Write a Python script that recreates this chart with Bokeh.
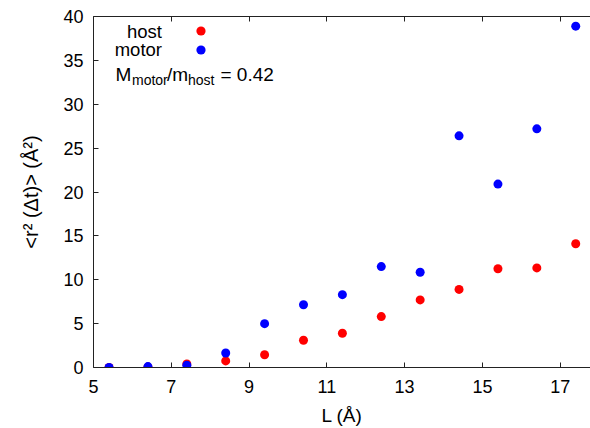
from bokeh.plotting import figure
from bokeh.models import Range1d, LinearAxis, FixedTicker, Legend, LegendItem, Label
from bokeh.embed import file_html
from bokeh.resources import INLINE

# ---- data ----
L_values = [5.4, 6.4, 7.4, 8.4, 9.4, 10.4, 11.4, 12.4, 13.4, 14.4, 15.4, 16.4, 17.4]
host_msd = [0.0, 0.05, 0.4, 0.75, 1.45, 3.1, 3.9, 5.8, 7.7, 8.9, 11.25, 11.35, 14.1]
motor_msd = [0.0, 0.1, 0.25, 1.65, 5.0, 7.15, 8.3, 11.5, 10.85, 26.4, 20.9, 27.2, 38.9]
x_ticks = [5, 7, 9, 11, 13, 15, 17]
y_ticks = [0, 5, 10, 15, 20, 25, 30, 35, 40]
series_names = ["host", "motor"]
series_colors = ["#ff0000", "#0000ff"]

FONT = "Liberation Sans"

p = figure(width=590, height=428, output_backend="svg", toolbar_location=None,
           x_range=Range1d(5, 17.78), y_range=Range1d(0, 40),
           x_axis_location=None, y_axis_location=None,
           min_border_left=93, min_border_right=0, min_border_top=16, min_border_bottom=61)
p.outline_line_color = None
p.grid.visible = False
p.background_fill_color = "white"
p.border_fill_color = "white"

def style_axis(ax):
    ax.axis_line_color = "#222222"
    ax.axis_line_width = 1
    ax.major_tick_line_color = "#222222"
    ax.major_tick_in = 5
    ax.major_tick_out = 0
    ax.minor_tick_line_color = None
    ax.major_label_text_font = FONT
    ax.major_label_text_font_size = "18px"
    ax.major_label_text_color = "black"
    ax.axis_label_text_font = FONT
    ax.axis_label_text_font_size = "19px"
    ax.axis_label_text_font_style = "normal"
    ax.axis_label_text_color = "black"

xb = LinearAxis(ticker=FixedTicker(ticks=x_ticks), axis_label="L (Å)")
style_axis(xb)
xb.major_label_standoff = 12
xb.axis_label_standoff = 9
p.add_layout(xb, "below")

xt = LinearAxis(ticker=FixedTicker(ticks=x_ticks))
style_axis(xt)
xt.major_label_text_color = None
xt.major_label_standoff = 0
p.add_layout(xt, "above")

yl = LinearAxis(ticker=FixedTicker(ticks=y_ticks), axis_label="<r² (Δt)> (Å²)")
style_axis(yl)
yl.major_label_standoff = 10
yl.axis_label_standoff = 18
yl.axis_label_text_font_size = "20px"
p.add_layout(yl, "left")

r_host = p.scatter(L_values, host_msd, size=9, color=series_colors[0], line_color=None)
r_motor = p.scatter(L_values, motor_msd, size=9, color=series_colors[1], line_color=None)

# legend swatches (gnuplot style: text left, symbol right)
for r, yloc in [(r_host, 325), (r_motor, 306)]:
    lg = Legend(items=[LegendItem(label=" ", renderers=[r])],
                location=(96, yloc), glyph_width=23, glyph_height=23,
                label_height=23, padding=0, margin=0, spacing=0,
                label_text_color=None, label_text_font_size="1px",
                label_width=1, label_standoff=0,
                background_fill_alpha=0, border_line_color=None)
    p.add_layout(lg)

DY = 7  # baseline correction

def txt(text, x, y, size, **kw):
    p.add_layout(Label(x=x, y=y + DY, x_units="screen", y_units="screen", text=text,
                       text_font=FONT, text_font_size=f"{size}px",
                       text_color="black", text_baseline="alphabetic", **kw))

# legend texts (right aligned)
txt(series_names[0], 68.5, 367 - 37.5, 18.5, text_align="right")
txt(series_names[1], 68.5, 367 - 56, 18.5, text_align="right")

# M_motor/m_host = 0.42
base_x, base_y = 22, 367 - 81
for t, fs, dx, dy in [("M", 19, 0, 0), ("motor", 14, 16.5, -5), ("/m", 19, 51.5, 0),
                      ("host", 14, 72.5, -5), ("= 0.42", 19, 105, 0)]:
    txt(t, base_x + dx, base_y + dy, fs, text_align="left")

open("out.html", "w").write(file_html(p, INLINE))
